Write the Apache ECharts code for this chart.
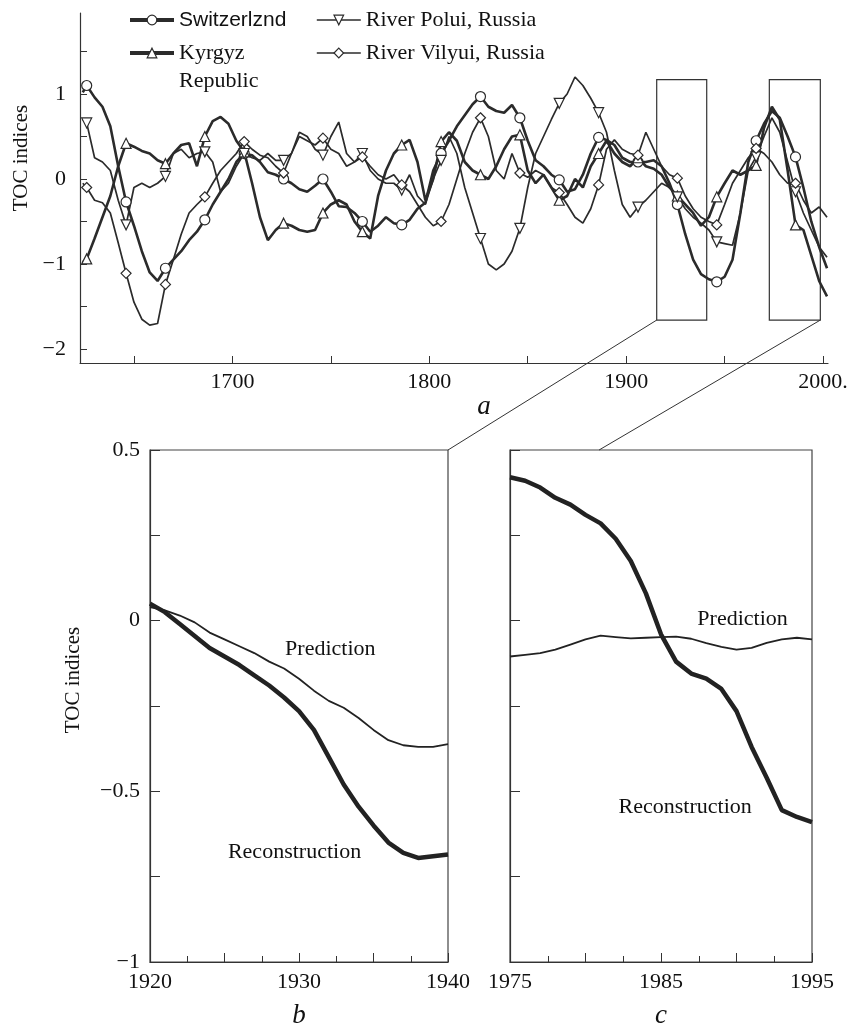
<!DOCTYPE html>
<html>
<head>
<meta charset="utf-8">
<script src="https://cdn.jsdelivr.net/npm/echarts@6/dist/echarts.min.js"></script>
<style>
html,body{margin:0;padding:0;background:#fff;}
#main{width:851px;height:1030px;}
</style>
</head>
<body>
<div id="main"></div>
<script>
// ---------- Panel a: TOC indices 1624-2002 ----------
const topYears = [
  1624,1626,1630,1634,1638,1642,1646,1650,1654,1658,
  1662,1666,1670,1674,1678,1682,1686,1690,1694,1698,
  1702,1706,1710,1714,1718,1722,1726,1730,1734,1738,
  1742,1746,1750,1754,1758,1762,1766,1770,1774,1778,
  1782,1786,1790,1794,1798,1802,1806,1810,1814,1818,
  1822,1826,1830,1834,1838,1842,1846,1850,1854,1858,
  1862,1866,1870,1874,1878,1882,1886,1890,1894,1898,
  1902,1906,1910,1914,1918,1922,1926,1930,1934,1938,
  1942,1946,1950,1954,1958,1962,1966,1970,1974,1978,
  1982,1986,1990,1994,1998,2002
];
const switzerland = [
  1.02,1.1,0.96,0.85,0.62,0.15,-0.27,-0.55,-0.85,-1.1,
  -1.2,-1.05,-0.95,-0.85,-0.72,-0.62,-0.48,-0.3,-0.15,0.0,
  0.2,0.3,0.28,0.2,0.08,0.05,0.0,-0.05,-0.12,-0.15,
  -0.08,0.0,-0.15,-0.32,-0.33,-0.4,-0.5,-0.62,-0.55,-0.45,
  -0.52,-0.54,-0.48,-0.35,-0.28,0.1,0.3,0.45,0.62,0.75,
  0.88,0.97,0.85,0.8,0.78,0.87,0.72,0.45,0.22,0.15,
  0.05,-0.01,-0.15,-0.12,0.05,0.3,0.49,0.46,0.4,0.25,
  0.2,0.2,0.2,0.22,0.15,-0.05,-0.3,-0.65,-0.95,-1.12,
  -1.18,-1.21,-1.15,-0.95,-0.4,0.2,0.45,0.65,0.8,0.72,
  0.5,0.26,-0.1,-0.5,-0.8,-1.05
];
const kyrgyz = [
  -0.98,-0.94,-0.7,-0.45,-0.2,0.15,0.42,0.38,0.33,0.3,
  0.22,0.18,0.3,0.4,0.42,0.15,0.5,0.68,0.73,0.65,
  0.45,0.32,-0.05,-0.45,-0.72,-0.6,-0.52,-0.55,-0.6,-0.62,
  -0.6,-0.4,-0.3,-0.25,-0.3,-0.5,-0.62,-0.7,-0.2,0.1,
  0.3,0.4,0.46,0.2,-0.25,0.0,0.44,0.55,0.45,0.2,
  0.1,0.05,0.0,0.15,0.35,0.5,0.52,0.1,-0.05,0.05,
  -0.1,-0.25,-0.2,0.0,-0.1,0.15,0.3,0.45,0.3,0.2,
  0.15,0.25,0.15,0.12,0.05,-0.1,-0.2,-0.3,-0.4,-0.55,
  -0.45,-0.21,-0.05,0.1,0.05,0.1,0.16,0.6,0.85,0.7,
  0.1,-0.54,-0.6,-0.9,-1.2,-1.38
];
const polui = [
  0.7,0.66,0.25,0.2,0.1,-0.25,-0.54,-0.1,-0.05,-0.1,
  -0.05,0.03,0.3,0.35,0.25,0.3,0.32,0.2,-0.15,-0.05,
  0.15,0.3,0.25,0.22,0.3,0.22,0.22,0.3,0.55,0.5,
  0.35,0.28,0.5,0.67,0.3,0.2,0.3,0.1,0.0,-0.05,
  -0.05,-0.13,0.05,-0.2,-0.3,0.0,0.22,0.5,0.3,-0.1,
  -0.4,-0.7,-1.0,-1.07,-1.0,-0.85,-0.58,-0.1,0.3,0.5,
  0.7,0.89,1.0,1.2,1.1,0.95,0.78,0.55,0.1,-0.3,
  -0.45,-0.33,-0.25,-0.15,-0.05,-0.1,-0.21,-0.35,-0.45,-0.52,
  -0.6,-0.74,-0.76,-0.78,-0.4,0.1,0.26,0.5,0.72,0.55,
  0.2,-0.15,-0.4,-0.6,-0.8,-0.92
];
const vilyui = [
  -0.05,-0.1,-0.25,-0.28,-0.4,-0.75,-1.11,-1.45,-1.65,-1.72,
  -1.7,-1.24,-0.95,-0.65,-0.4,-0.3,-0.21,-0.05,0.1,0.2,
  0.3,0.44,0.35,0.28,0.25,0.15,0.07,0.3,0.5,0.45,
  0.4,0.48,0.35,0.3,0.15,0.2,0.26,0.15,0.05,0.0,
  0.05,-0.07,-0.15,-0.3,-0.45,-0.55,-0.5,-0.3,0.0,0.3,
  0.55,0.72,0.5,0.1,0.0,0.3,0.07,0.02,0.1,0.05,
  -0.1,-0.16,-0.3,-0.45,-0.52,-0.35,-0.07,0.35,0.46,0.35,
  0.3,0.28,0.55,0.35,0.15,0.05,0.01,-0.2,-0.35,-0.45,
  -0.5,-0.54,-0.3,-0.05,0.1,0.25,0.36,0.3,0.2,0.05,
  -0.05,-0.05,-0.25,-0.4,-0.33,-0.45
];
const markerYears = [1626,1646,1666,1686,1706,1726,1746,1766,1786,1806,1826,1846,1866,1886,1906,1926,1946,1966,1986];
const topXLabels = [1700,1800,1900,2000];
const topXTicks = [1650,1700,1750,1800,1850,1900,1950,2000];
const topYLabels = [-2,-1,0,1];
const topYTicks = [-2,-1.5,-1,-0.5,0,0.5,1,1.5];
// zoom boxes on panel a: [yearFrom, yearTo, valueLow, valueHigh]
const zoomBoxes = [[1915.5,1940.9,-1.66,1.17],[1972.7,1998.6,-1.66,1.17]];

// ---------- Panel b: 1920-1940 ----------
const yearsB = [1920,1921,1922,1923,1924,1925,1926,1927,1928,1929,1930,1931,1932,1933,1934,1935,1936,1937,1938,1939,1940];
const reconB = [0.05,0.025,-0.01,-0.045,-0.08,-0.105,-0.13,-0.16,-0.19,-0.225,-0.265,-0.32,-0.4,-0.48,-0.545,-0.6,-0.65,-0.68,-0.695,-0.69,-0.685];
const predB  = [0.04,0.03,0.015,-0.005,-0.035,-0.055,-0.075,-0.095,-0.12,-0.14,-0.17,-0.205,-0.235,-0.255,-0.285,-0.32,-0.35,-0.365,-0.37,-0.37,-0.362];

// ---------- Panel c: 1975-1995 ----------
const yearsC = [1975,1976,1977,1978,1979,1980,1981,1982,1983,1984,1985,1986,1987,1988,1989,1990,1991,1992,1993,1994,1995];
const reconC = [0.42,0.41,0.39,0.36,0.34,0.31,0.285,0.24,0.175,0.08,-0.04,-0.12,-0.155,-0.17,-0.2,-0.265,-0.37,-0.46,-0.555,-0.575,-0.59];
const predC  = [-0.105,-0.1,-0.095,-0.085,-0.07,-0.055,-0.044,-0.048,-0.052,-0.05,-0.048,-0.047,-0.053,-0.066,-0.077,-0.085,-0.08,-0.065,-0.055,-0.05,-0.055];

// curve annotations: [panel index, text, year, value]
const curveLabels = [
  [1,'Prediction',1932.1,-0.085],
  [1,'Reconstruction',1929.7,-0.677],
  [2,'Prediction',1990.4,0.003],
  [2,'Reconstruction',1986.6,-0.548]
];

const FONT = "Liberation Serif";
const SANS = "Liberation Sans";
const INK = '#2b2b2b';
const minus = v => String(v).replace('-', '\u2212');

function topSeries(name, values, symbol, width) {
  return {
    name: name, type: 'line', xAxisIndex: 0, yAxisIndex: 0,
    symbol: symbol, symbolSize: 10, showSymbol: true, showAllSymbol: true,
    lineStyle: {color: INK, width: width},
    itemStyle: {color: '#fff', borderColor: INK, borderWidth: 1.2},
    emphasis: {disabled: true},
    data: topYears.map((y, i) => markerYears.indexOf(y) >= 0
      ? {value: [y, values[i]]}
      : {value: [y, values[i]], symbol: 'none'}),
    z: 3
  };
}
const downTri = 'path://M0,0L10,0L5,9Z';

const chart = echarts.init(document.getElementById('main'), null, {renderer: 'canvas'});

const axisLineStyle = {onZero: false, lineStyle: {color: '#333', width: 1.2}};

function legendAt(name, left, top, lineW, family, size, lines) {
  return {
    data: [name],
    left: left, top: top, orient: 'vertical', padding: 0,
    itemWidth: 44, itemHeight: 12, itemGap: 0, selectedMode: false,
    lineStyle: {width: lineW, color: INK},
    itemStyle: {color: '#fff', borderColor: INK, borderWidth: 1.2},
    textStyle: {fontFamily: family, fontSize: size, fontWeight: 'normal', color: '#111', lineHeight: 28},
    formatter: () => lines.join('\n')
  };
}

const option = {
  animation: false,
  backgroundColor: '#fff',
  textStyle: {fontFamily: FONT},
  legend: [
    legendAt('Switzerlznd', 128, 6, 4, SANS, 21, ['Switzerlznd']),
    legendAt('Kyrgyz Republic', 128, 11, 4, 'serif', 22, ['\u00a0', 'Kyrgyz', 'Republic']),
    legendAt('River Polui, Russia', 316, 6, 1.6, FONT, 22, ['River Polui, Russia']),
    legendAt('River Vilyui, Russia', 316, 39, 1.6, FONT, 22, ['River Vilyui, Russia'])
  ],
  grid: [
    {left: 80, top: 13, width: 748, height: 350, show: false},
    {left: 150, top: 450, width: 298, height: 512, show: true, borderColor: '#444', borderWidth: 1.2},
    {left: 510, top: 450, width: 302, height: 512, show: true, borderColor: '#444', borderWidth: 1.2}
  ],
  xAxis: [
    {
      type: 'value', gridIndex: 0, min: 1622.6, max: 2002.5,
      axisLine: axisLineStyle, splitLine: {show: false},
      axisTick: {inside: true, length: 7, customValues: topXTicks, lineStyle: {color: '#333'}},
      axisLabel: {customValues: topXLabels, margin: 8, fontFamily: FONT, fontSize: 22, color: '#111',
        formatter: v => v === 2000 ? '2000.' : String(v)},
      name: 'a', nameLocation: 'middle', nameGap: 12,
      nameTextStyle: {fontFamily: FONT, fontStyle: 'italic', fontSize: 27, color: '#111', padding: [0,0,0,60]}
    },
    {
      type: 'value', gridIndex: 1, min: 1920, max: 1940, interval: 5,
      axisLine: axisLineStyle, splitLine: {show: false},
      axisTick: {inside: true, length: 9, lineStyle: {color: '#333'}},
      minorTick: {show: true, splitNumber: 2, length: 6, lineStyle: {color: '#333'}},
      axisLabel: {margin: 9, fontFamily: FONT, fontSize: 22, color: '#111',
        formatter: v => (v % 10 === 0 ? String(v) : '')},
      name: 'b', nameLocation: 'middle', nameGap: 40,
      nameTextStyle: {fontFamily: FONT, fontStyle: 'italic', fontSize: 27, color: '#111'}
    },
    {
      type: 'value', gridIndex: 2, min: 1975, max: 1995, interval: 5,
      axisLine: axisLineStyle, splitLine: {show: false},
      axisTick: {inside: true, length: 9, lineStyle: {color: '#333'}},
      minorTick: {show: true, splitNumber: 2, length: 6, lineStyle: {color: '#333'}},
      axisLabel: {margin: 9, fontFamily: FONT, fontSize: 22, color: '#111',
        formatter: v => ((v - 1975) % 10 === 0 ? String(v) : '')},
      name: 'c', nameLocation: 'middle', nameGap: 40,
      nameTextStyle: {fontFamily: FONT, fontStyle: 'italic', fontSize: 27, color: '#111'}
    }
  ],
  yAxis: [
    {
      type: 'value', gridIndex: 0, min: -2.165, max: 1.953,
      axisLine: {show: true, onZero: false, lineStyle: {color: '#333', width: 1.2}}, splitLine: {show: false},
      axisTick: {show: true, inside: true, length: 7, customValues: topYTicks, lineStyle: {color: '#333'}},
      axisLabel: {customValues: topYLabels, margin: 14, fontFamily: FONT, fontSize: 22, color: '#111', formatter: minus},
      name: 'TOC indices', nameLocation: 'middle', nameGap: 42,
      nameTextStyle: {fontFamily: FONT, fontSize: 21, color: '#111', padding: [0,0,0,60]}
    },
    {
      type: 'value', gridIndex: 1, min: -1, max: 0.5, interval: 0.5,
      axisLine: {show: true, onZero: false, lineStyle: {color: '#333', width: 1.2}}, splitLine: {show: false},
      axisTick: {show: true, inside: true, length: 10, lineStyle: {color: '#333'}},
      minorTick: {show: true, splitNumber: 2, length: 10, lineStyle: {color: '#333'}},
      axisLabel: {margin: 10, fontFamily: FONT, fontSize: 22, color: '#111', formatter: minus},
      name: 'TOC indices', nameLocation: 'middle', nameGap: 66,
      nameTextStyle: {fontFamily: FONT, fontSize: 21, color: '#111', padding: [0,0,0,52]}
    },
    {
      type: 'value', gridIndex: 2, min: -1, max: 0.5, interval: 0.5,
      axisLine: {show: true, onZero: false, lineStyle: {color: '#333', width: 1.2}}, splitLine: {show: false},
      axisTick: {show: true, inside: true, length: 10, lineStyle: {color: '#333'}},
      minorTick: {show: true, splitNumber: 2, length: 10, lineStyle: {color: '#333'}},
      axisLabel: {show: false}
    }
  ],
  series: [
    Object.assign(topSeries('Switzerlznd', switzerland, 'circle', 2.6), {
      markArea: {
        silent: true,
        itemStyle: {color: 'rgba(0,0,0,0)', borderColor: '#333', borderWidth: 1.2},
        data: zoomBoxes.map(b => [{xAxis: b[0], yAxis: b[3]}, {xAxis: b[1], yAxis: b[2]}])
      }
    }),
    topSeries('Kyrgyz Republic', kyrgyz, 'triangle', 2.6),
    topSeries('River Polui, Russia', polui, downTri, 1.7),
    topSeries('River Vilyui, Russia', vilyui, 'diamond', 1.7),
    {name: 'Reconstruction b', type: 'line', xAxisIndex: 1, yAxisIndex: 1, showSymbol: false,
      lineStyle: {color: '#222', width: 4.5}, data: yearsB.map((y, i) => [y, reconB[i]])},
    {name: 'Prediction b', type: 'line', xAxisIndex: 1, yAxisIndex: 1, showSymbol: false,
      lineStyle: {color: '#222', width: 1.8}, data: yearsB.map((y, i) => [y, predB[i]])},
    {name: 'Reconstruction c', type: 'line', xAxisIndex: 2, yAxisIndex: 2, showSymbol: false,
      lineStyle: {color: '#222', width: 4.5}, data: yearsC.map((y, i) => [y, reconC[i]])},
    {name: 'Prediction c', type: 'line', xAxisIndex: 2, yAxisIndex: 2, showSymbol: false,
      lineStyle: {color: '#222', width: 1.8}, data: yearsC.map((y, i) => [y, predC[i]])}
  ]
};
chart.setOption(option);

// connector lines from zoom boxes on panel a to panels b and c
const px = (idx, pt) => chart.convertToPixel({xAxisIndex: idx, yAxisIndex: idx}, pt);
const b0 = zoomBoxes[0], b1 = zoomBoxes[1];
const c1a = px(0, [b0[0], b0[2]]), c1b = px(1, [1940, 0.5]);
const c2a = px(0, [b1[1], b1[2]]), c2b = px(2, [1980.9, 0.5]);
const graphics = [
  {type: 'line', shape: {x1: c1a[0], y1: c1a[1], x2: c1b[0], y2: c1b[1]}, style: {stroke: '#333', lineWidth: 1}, silent: true},
  {type: 'line', shape: {x1: c2a[0], y1: c2a[1], x2: c2b[0], y2: c2b[1]}, style: {stroke: '#333', lineWidth: 1}, silent: true}
];
curveLabels.forEach(l => {
  const p = px(l[0], [l[2], l[3]]);
  graphics.push({type: 'text', x: p[0], y: p[1], silent: true,
    style: {text: l[1], fontFamily: FONT, fontSize: 22, fill: '#111', align: 'center', verticalAlign: 'middle'}});
});
chart.setOption({graphic: graphics});
</script>
</body>
</html>
